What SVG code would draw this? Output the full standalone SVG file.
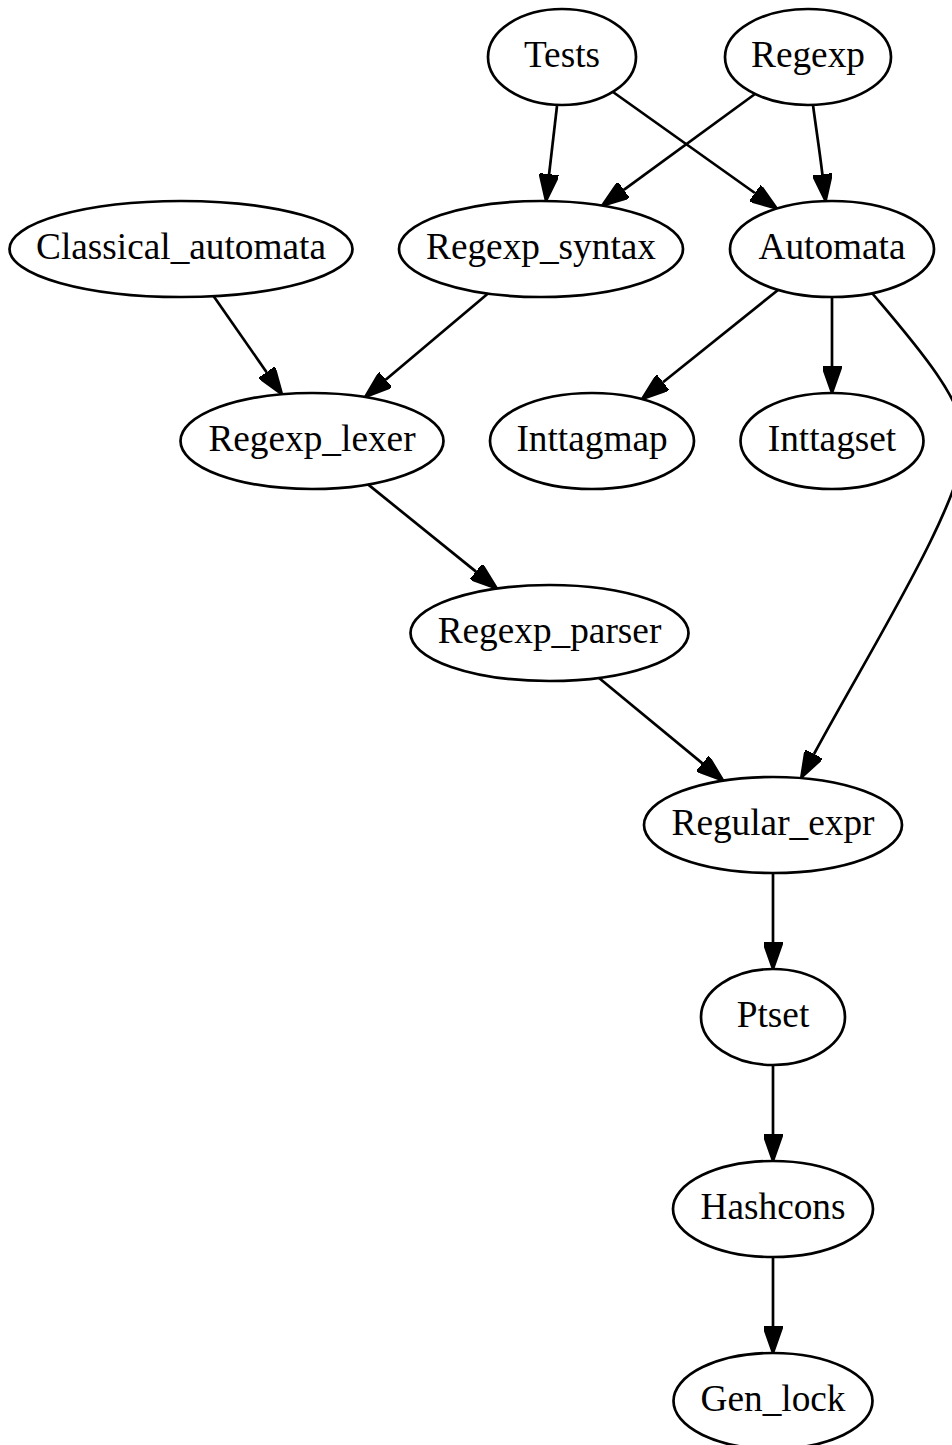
<svg xmlns="http://www.w3.org/2000/svg" width="952" height="1445" viewBox="0 0 952 1445">
<style>
.n ellipse{fill:none;stroke:#000;stroke-width:2.7}
.n text{font-family:"Liberation Serif","Times New Roman",serif;font-size:37.3px;text-anchor:middle;fill:#000}
.e path{fill:none;stroke:#000;stroke-width:2.7;marker-end:url(#ah)}
</style>
<defs>
<marker id="ah" viewBox="0 0 27 19" refX="0" refY="9.5" markerWidth="27" markerHeight="19" markerUnits="userSpaceOnUse" orient="auto">
<path d="M0,0 L27,9.5 L0,19 z" fill="#000" stroke="#000" stroke-width="2.5"/>
</marker>
</defs>
<rect width="952" height="1445" fill="#fff"/>
<g id="edges" class="e">
<path d="M557,106 L549.1,174.2"/>
<path d="M613,92 L754.9,193"/>
<path d="M755,94 L623.8,189.8"/>
<path d="M813,105 C816,128 819.5,150 822.4,174.3"/>
<path d="M213.5,296 L266.6,372.2"/>
<path d="M488,293.5 L385.7,379.7"/>
<path d="M778,290 L663,382.3"/>
<path d="M832,297 L832,366"/>
<path d="M872,293 C910,338 965,400 965,440 C965,500 870,650 814,754"/>
<path d="M368,484.4 L476,571.6"/>
<path d="M599,678 L702.4,763.4"/>
<path d="M773,873 L773,942"/>
<path d="M773,1065 L773,1134"/>
<path d="M773,1257 L773,1326"/>
</g>
<g id="Tests" class="n"><ellipse cx="562" cy="57" rx="74" ry="48"/><text x="562" y="67">Tests</text></g>
<g id="Regexp" class="n"><ellipse cx="808" cy="57" rx="83" ry="48"/><text x="808" y="67">Regexp</text></g>
<g id="Classical_automata" class="n"><ellipse cx="181" cy="249" rx="171.5" ry="48"/><text x="181" y="259">Classical_automata</text></g>
<g id="Regexp_syntax" class="n"><ellipse cx="541" cy="249" rx="142" ry="48"/><text x="541" y="259">Regexp_syntax</text></g>
<g id="Automata" class="n"><ellipse cx="832" cy="249" rx="102" ry="48"/><text x="832" y="259">Automata</text></g>
<g id="Regexp_lexer" class="n"><ellipse cx="312" cy="441" rx="131.5" ry="48"/><text x="312" y="451">Regexp_lexer</text></g>
<g id="Inttagmap" class="n"><ellipse cx="592" cy="441" rx="102" ry="48"/><text x="592" y="451">Inttagmap</text></g>
<g id="Inttagset" class="n"><ellipse cx="832" cy="441" rx="91.5" ry="48"/><text x="832" y="451">Inttagset</text></g>
<g id="Regexp_parser" class="n"><ellipse cx="549.5" cy="633" rx="139" ry="48"/><text x="549.5" y="643">Regexp_parser</text></g>
<g id="Regular_expr" class="n"><ellipse cx="773" cy="825" rx="129" ry="48"/><text x="773" y="835">Regular_expr</text></g>
<g id="Ptset" class="n"><ellipse cx="773" cy="1017" rx="72" ry="48"/><text x="773" y="1027">Ptset</text></g>
<g id="Hashcons" class="n"><ellipse cx="773" cy="1209" rx="100" ry="48"/><text x="773" y="1219">Hashcons</text></g>
<g id="Gen_lock" class="n"><ellipse cx="773" cy="1401" rx="99.5" ry="48"/><text x="773" y="1411">Gen_lock</text></g>
</svg>
